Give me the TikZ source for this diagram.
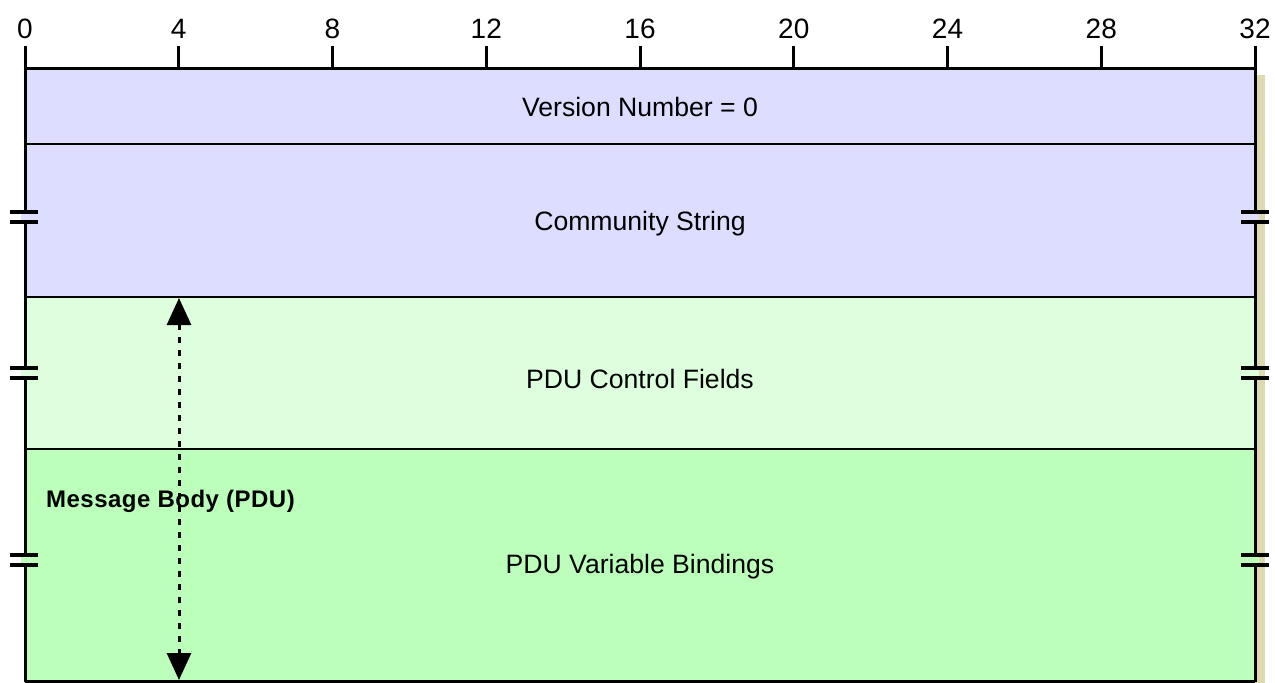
\documentclass[tikz,border=0pt]{standalone}
\usepackage{fontspec}
\setmainfont{Liberation Sans}
\usetikzlibrary{arrows.meta}
\definecolor{hdrfill}{HTML}{DDDDFF}
\definecolor{ctlfill}{HTML}{DDFFDD}
\definecolor{varfill}{HTML}{BBFFBB}
\definecolor{shadowc}{HTML}{DDDAB0}
\tikzset{
  rulertick/.style={line width=3pt},
  rulernum/.style={font=\fontsize{28}{28}\selectfont, anchor=base, inner sep=0pt},
  fieldlabel/.style={font=\fontsize{26.6}{26.6}\selectfont, inner sep=0pt},
  breakbar/.style={line width=4pt},
  dimarrow/.style={line width=3pt, dash pattern=on 6pt off 7pt, {Triangle[length=27pt,width=24pt]}-{Triangle[length=27pt,width=24pt]}},
}
\begin{document}
\begin{tikzpicture}[x=1pt,y=-1pt]
\useasboundingbox (0,0) rectangle (1275,683);
% shadow
\fill[shadowc] (1255,75) rectangle (1265,683);
% rows
\fill[hdrfill] (25,68) rectangle (1255,297);
\fill[ctlfill] (25,297) rectangle (1255,449);
\fill[varfill] (25,449) rectangle (1255,681);
\draw[line width=2pt] (25,144) -- (1255,144);
\draw[line width=2pt] (25,297) -- (1255,297);
\draw[line width=2pt] (25,449) -- (1255,449);
\draw[line width=3pt] (25,68) -- (1255,68);
\draw[line width=3pt] (25,681) -- (1255,681);
\draw[line width=3pt] (25,46) -- (25,681.5);
\draw[line width=3pt] (1255,46) -- (1255,681.5);
% ruler
\foreach \i in {0,4,...,32}{
  \draw[rulertick] ({25+\i*38.4375},46) -- ({25+\i*38.4375},68);
  \node[rulernum] (n\i) at ({25+\i*38.4375},38) {\i};
}
% break marks
\foreach \y/\c [count=\k] in {217/hdrfill,373/ctlfill,560/varfill}{
  \fill[\c] (21,{\y-5}) rectangle (29,{\y+5});
  \fill[\c] (1251,{\y-5}) rectangle (1259,{\y+5});
  \draw[breakbar] (10,{\y-5}) -- (38,{\y-5});
  \draw[breakbar] (10,{\y+5}) -- (38,{\y+5});
  \draw[breakbar] (1241,{\y-5}) -- (1269,{\y-5});
  \draw[breakbar] (1241,{\y+5}) -- (1269,{\y+5});
}
% labels
\node[fieldlabel] (version) at (640,107) {Version Number = 0};
\node[fieldlabel] (community) at (640,224) {Community String};
\node[fieldlabel] (control) at (640,379) {PDU Control Fields};
\node[fieldlabel] (bindings) at (640,567) {PDU Variable Bindings};
\node[font=\bfseries\fontsize{24}{24}\selectfont\addfontfeature{LetterSpace=2}, inner sep=0pt, anchor=base west] (body) at (46,507) {Message Body (PDU)};
% dimension arrow
\coordinate (atop) at (179,298);
\coordinate (abot) at (179,680);
\draw[dimarrow] (atop) -- (abot);
\end{tikzpicture}
\end{document}
